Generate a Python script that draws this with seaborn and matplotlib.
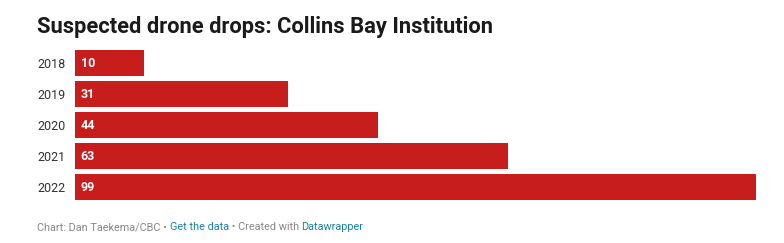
import matplotlib
matplotlib.use("Agg")
import matplotlib.pyplot as plt
import seaborn as sns
import pandas as pd

years = ["2018", "2019", "2020", "2021", "2022"]
drops = [10, 31, 44, 63, 99]
title = "Suspected drone drops: Collins Bay Institution"
footer_parts = [("Chart: Dan Taekema/CBC • ", "#888888"),
                ("Get the data", "#1d81a2"),
                (" • Created with ", "#888888"),
                ("Datawrapper", "#1d81a2")]

sns.set_theme(style="white")
plt.rcParams["font.family"] = ["Roboto", "DejaVu Sans"]

W, H = 784, 243
fig = plt.figure(figsize=(W / 100, H / 100), dpi=100)
ax = fig.add_axes([75 / W, 1 - 202.5 / H, (756 - 75) / W, (202.5 - 47.5) / H])

df = pd.DataFrame({"year": years, "drops": drops})
sns.barplot(data=df, x="drops", y="year", orient="h", color="#c71e1d",
            width=0.87, saturation=1, linewidth=0, ax=ax)
ax.set_xlim(0, max(drops))
ax.set_ylim(len(years) - 0.5, -0.5)
ax.set_xlabel("")
ax.set_ylabel("")
ax.set_xticks([])
for s in ax.spines.values():
    s.set_visible(False)
ax.tick_params(axis="y", length=0, pad=7, labelsize=9, labelcolor="#333333")

for i, v in enumerate(drops):
    ax.annotate(str(v), xy=(0, i), xytext=(4, 0), textcoords="offset points",
                va="center", ha="left", color="white", fontsize=9,
                fontweight="bold")

fig.text(37 / W, 1 - 27 / H, title, fontsize=15.75, fontweight="bold",
         color="#1a1a1a", va="center", ha="left")

renderer = fig.canvas.get_renderer()
x = 37 / W
for txt, col in footer_parts:
    t = fig.text(x, 1 - 227 / H, txt, fontsize=7.85, color=col,
                 va="center", ha="left")
    bb = t.get_window_extent(renderer=renderer)
    x = bb.x1 / W

fig.savefig("out.png", dpi=100)
